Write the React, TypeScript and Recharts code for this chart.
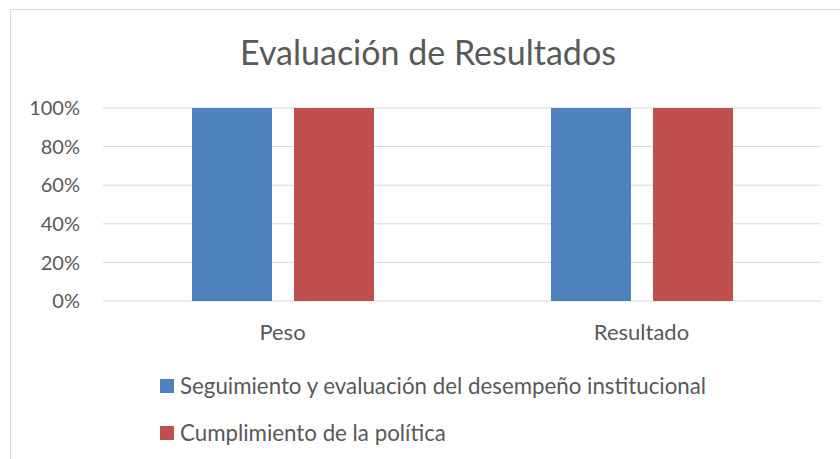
import React from 'react';
import { BarChart, Bar, XAxis, YAxis, CartesianGrid, Legend } from 'recharts';

const categories = ['Peso', 'Resultado'];
const seguimiento = [1, 1];
const cumplimiento = [1, 1];
const yTicks = [0, 0.2, 0.4, 0.6, 0.8, 1];
const seriesNames = [
  'Seguimiento y evaluación del desempeño institucional',
  'Cumplimiento de la política',
];
const seriesColors = ['#4F81BD', '#C0504D'];

const data = categories.map((name, i) => ({
  name,
  seguimiento: seguimiento[i],
  cumplimiento: cumplimiento[i],
}));

const FONT = 'Lato, "Open Sans", sans-serif';
const TEXT = '#595959';

// keep the legend in series order (recharts sorts by name otherwise)
const renderLegend = (props: any) => {
  const { payload = [] } = props;
  const items = [...payload].sort(
    (a: any, b: any) => seriesNames.indexOf(a.value) - seriesNames.indexOf(b.value)
  );
  return (
    <div style={{ fontFamily: FONT, color: TEXT, fontSize: 22.3 }}>
      {items.map((entry: any) => (
        <div
          key={entry.value}
          style={{ display: 'flex', alignItems: 'center', height: 47, whiteSpace: 'nowrap' }}
        >
          <span
            style={{
              display: 'inline-block',
              width: 14,
              height: 14,
              background: entry.color,
              marginRight: 6,
            }}
          />
          <span>{entry.value}</span>
        </div>
      ))}
    </div>
  );
};

export default function App() {
  return (
    <div
      style={{
        position: 'absolute',
        left: 0,
        top: 0,
        width: 840,
        height: 459,
        overflow: 'hidden',
        background: '#fff',
      }}
    >
      <div
        style={{
          position: 'absolute',
          left: 10,
          top: 9,
          width: 850,
          height: 470,
          border: '1px solid #d9d9d9',
          boxSizing: 'border-box',
          pointerEvents: 'none',
        }}
      />
      <div
        style={{
          position: 'absolute',
          left: 8,
          top: 32,
          width: 840,
          textAlign: 'center',
          fontFamily: FONT,
          fontSize: 34,
          color: TEXT,
          lineHeight: '40px',
        }}
      >
        Evaluación de Resultados
      </div>
      <BarChart
        width={840}
        height={459}
        data={data}
        margin={{ top: 108, right: 19, left: 0, bottom: 118 }}
        barGap={22}
        style={{ position: 'absolute', left: 0, top: 0 }}
      >
        <CartesianGrid vertical={false} stroke="#d9d9d9" strokeWidth={1} />
        <XAxis
          dataKey="name"
          axisLine={false}
          tickLine={false}
          height={40}
          tickSize={6}
          tickMargin={17}
          tick={{ fill: TEXT, fontSize: 22, fontFamily: FONT }}
        />
        <YAxis
          domain={[0, 1]}
          ticks={yTicks}
          width={103}
          axisLine={false}
          tickLine={false}
          tickSize={6}
          tickMargin={17}
          tickFormatter={(v: number) => `${Math.round(v * 100)}%`}
          tick={{ fill: TEXT, fontSize: 20, fontFamily: FONT }}
        />
        <Legend
          layout="vertical"
          align="center"
          verticalAlign="middle"
          wrapperStyle={{ left: 160, top: 362, width: 660 }}
          content={renderLegend}
        />
        <Bar
          dataKey="seguimiento"
          name={seriesNames[0]}
          fill={seriesColors[0]}
          barSize={80}
          isAnimationActive={false}
        />
        <Bar
          dataKey="cumplimiento"
          name={seriesNames[1]}
          fill={seriesColors[1]}
          barSize={80}
          isAnimationActive={false}
        />
      </BarChart>
    </div>
  );
}
